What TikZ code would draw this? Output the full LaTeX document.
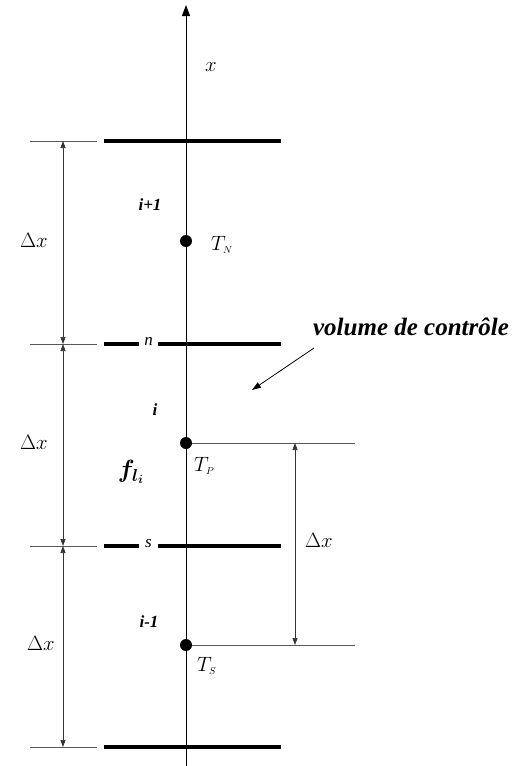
\documentclass[tikz,border=0pt]{standalone}
\usepackage{amsmath,bm}
\usepackage{fontspec}
\setmainfont{Liberation Serif}
\usetikzlibrary{arrows.meta}
\begin{document}
\begin{tikzpicture}[x=1pt,y=-1pt,
  thickbar/.style={line width=3.6pt},
  thinline/.style={line width=0.7pt, draw=black!65},
  dimarrow/.style={line width=0.7pt, draw=black!80, {Triangle[length=7pt,width=5pt]}-{Triangle[length=7pt,width=5pt]}},
  dot/.style={circle, fill=black, inner sep=0pt, minimum size=12pt},
  idx/.style={font=\fontsize{17}{17}\selectfont\bfseries\itshape, inner sep=1pt},
  barlbl/.style={font=\fontsize{17}{17}\selectfont\itshape, inner sep=1pt},
  mlbl/.style={font=\fontsize{20}{20}\selectfont},
  sublbl/.style={font=\fontsize{20}{20}\selectfont, inner sep=1pt}
]
\useasboundingbox (0,0) rectangle (520,766);
% axis
\coordinate (axB) at (186,766);
\coordinate (axT) at (186,5);
\draw[line width=1pt, -{Triangle[length=11pt,width=8pt]}] (axB) -- (axT);
\node[mlbl] (xl) at (211,67) {$x$};
% bars
\coordinate (b1L) at (104,141); \coordinate (b1R) at (281,141);
\coordinate (b2L) at (104,344); \coordinate (b2R) at (281,344);
\coordinate (b3L) at (104,546); \coordinate (b3R) at (281,546);
\coordinate (b4L) at (104,747); \coordinate (b4R) at (281,747);
\node[barlbl, minimum width=19pt] (n) at (148.5,341) {n};
\node[barlbl, minimum width=19pt] (s) at (148.5,544) {s};
\draw[thickbar] (b1L) -- (b1R);
\draw[thickbar] (b2L) -- (n.west |- b2L);
\draw[thickbar] (n.east |- b2L) -- (b2R);
\draw[thickbar] (b3L) -- (s.west |- b3L);
\draw[thickbar] (s.east |- b3L) -- (b3R);
\draw[thickbar] (b4L) -- (b4R);
% left thin lines
\coordinate (l1a) at (30,141); \coordinate (l1b) at (97,141);
\coordinate (l2a) at (30,344); \coordinate (l2b) at (97,344);
\coordinate (l3a) at (30,546); \coordinate (l3b) at (97,546);
\coordinate (l4a) at (30,747); \coordinate (l4b) at (97,747);
\draw[thinline] (l1a) -- (l1b);
\draw[thinline] (l2a) -- (l2b);
\draw[thinline] (l3a) -- (l3b);
\draw[thinline] (l4a) -- (l4b);
\coordinate (d1) at (63,141); \coordinate (d2) at (63,344);
\coordinate (d3) at (63,546); \coordinate (d4) at (63,747);
\draw[dimarrow] (d1) -- (d2);
\draw[dimarrow] (d2) -- (d3);
\draw[dimarrow] (d3) -- (d4);
\node[mlbl] (dx1) at (34,240) {$\Delta x$};
\node[mlbl] (dx2) at (34,442) {$\Delta x$};
\node[mlbl] (dx3) at (41,643) {$\Delta x$};
% dots
\node[dot] (TN) at (186,241) {};
\node[dot] (TP) at (186,443) {};
\node[dot] (TS) at (186,645) {};
\coordinate (rP) at (355,443);
\coordinate (rS) at (355,645);
\draw[thinline] (TP) -- (rP);
\draw[thinline] (TS) -- (rS);
\coordinate (dP) at (295,443); \coordinate (dS) at (295,645);
\draw[dimarrow] (dP) -- (dS);
\node[mlbl] (dx4) at (319,540) {$\Delta x$};
% labels
\node[idx] (ip1) at (150,205) {i+1};
\node[idx] (ii) at (155,410) {i};
\node[idx] (im1) at (149,622) {i-1};
\node[sublbl, anchor=west] (TNl) at (210,245) {$T_{\scriptscriptstyle N}$};
\node[sublbl, anchor=west] (TPl) at (193,466) {$T_{\scriptscriptstyle P}$};
\node[sublbl, anchor=west] (TSl) at (196,666) {$T_{\scriptscriptstyle S}$};
\node[font=\fontsize{24}{24}\selectfont, inner sep=0pt] (fl) at (131,472) {$\bm{f}_{\bm{l}_{\bm{i}}}$};
% control volume
\node[font=\fontsize{25}{25}\selectfont\bfseries\itshape, inner sep=0pt] (vc) at (411,327) {volume de contrôle};
\coordinate (vcs) at (314,348);
\coordinate (vce) at (252,390);
\draw[line width=0.8pt, -{Triangle[length=9pt,width=6pt]}] (vcs) -- (vce);
\end{tikzpicture}
\end{document}
